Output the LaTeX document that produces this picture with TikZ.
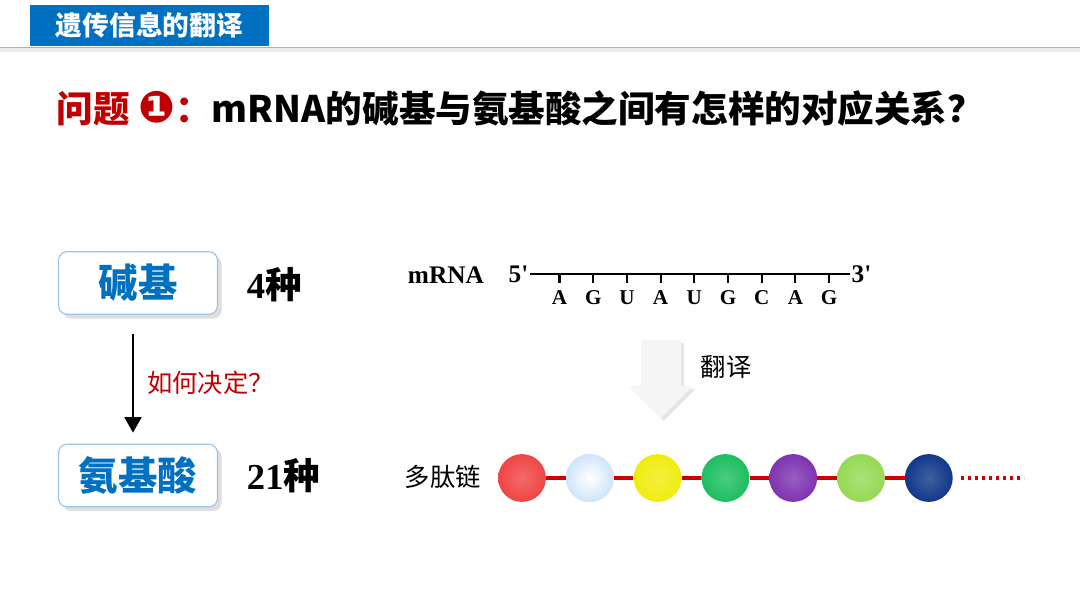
\documentclass[tikz,border=0pt]{standalone}
\usepackage{fontspec}
\setmainfont{Liberation Serif}
\newfontfamily\cjk{Noto Sans CJK SC}
\newfontfamily\dejavu{DejaVu Sans}
\usetikzlibrary{arrows.meta,shadows,positioning}
\definecolor{hdblue}{HTML}{0070C0}
\definecolor{qred}{HTML}{C00000}
\definecolor{boxline}{HTML}{9DC3E6}
\definecolor{pepred}{HTML}{D00000}
\definecolor{aa1}{HTML}{F04545}
\definecolor{aa2}{HTML}{CFE4FA}
\definecolor{aa3}{HTML}{F0EC10}
\definecolor{aa4}{HTML}{1DBE60}
\definecolor{aa5}{HTML}{7E34B2}
\definecolor{aa6}{HTML}{95D955}
\definecolor{aa7}{HTML}{11388A}

\begin{document}
\begin{tikzpicture}[x=0.025cm, y=-0.025cm,
	termbox/.style={draw=boxline, line width=0.8pt, fill=white, rounded corners=6pt,
		minimum width=113pt, minimum height=44.5pt, text=hdblue,
		font=\cjk\bfseries\fontsize{28}{32}\selectfont,
		drop shadow={shadow xshift=3pt, shadow yshift=-3pt, opacity=0.25}},
	count/.style={anchor=west, font=\bfseries\fontsize{26}{30}\selectfont},
	note/.style={anchor=west, font=\cjk\fontsize{18}{22}\selectfont},
	base/.style={font=\bfseries\fontsize{15}{18}\selectfont, inner sep=0pt},
	bead/.style={circle, minimum size=34pt, inner sep=0pt, inner color=#1!80!white, outer color=#1},
	peptide/.style={pepred, line width=2.2pt}]
	\useasboundingbox (0,0) rectangle (1080,608);
	\fill[white] (0,0) rectangle (1080,608);

	% header
	\node[fill=hdblue, minimum width=169.5pt, minimum height=29pt, text=white,
		font=\cjk\bfseries\fontsize{19}{22}\selectfont] (header) at (149.5,25.5) {遗传信息的翻译};
	\draw[gray!15, line width=2.5pt] (0,50) -- (1080,50);
	\draw[gray!60, line width=1.4pt] (0,47.5) -- (1080,47.5);

	\node[anchor=west, font=\cjk\bfseries\fontsize{26}{30}\selectfont] (question) at (52,108)
		{\textcolor{qred}{问题 {\dejavu\bfseries\fontsize{31}{30}\selectfont ❶}：}mRNA的碱基与氨基酸之间有怎样的对应关系？};

	% left side
	\node[termbox] (jianji) at (138,283) {碱基};
	\node[termbox] (anjisuan) at (138,475.5) {氨基酸};
	\node[count] (n4) at (242,285) {4{\cjk 种}};
	\node[count] (n21) at (242,476) {21{\cjk 种}};

	\draw[line width=1.6pt, -{Triangle[width=12pt, length=11pt]}]
		([shift={(-5,19)}]jianji.south) -- ([shift={(-5,-11)}]anjisuan.north)
		node[midway, note, text=qred, xshift=6pt] (howq) {如何决定？};

	% mRNA
	\node[anchor=west, font=\bfseries\fontsize{18}{22}\selectfont] (mrna) at (403,275) {mRNA};
	\node[anchor=east, inner sep=1pt, font=\bfseries\fontsize{18}{22}\selectfont] (five) at (530,274) {5\textquotesingle};
	\node[anchor=west, inner sep=1pt, font=\bfseries\fontsize{18}{22}\selectfont] (three) at (850,274) {3\textquotesingle};
	\draw[line width=1.5pt] (five.east) -- (three.west);
	\foreach \b [count=\i] in {A,G,U,A,U,G,C,A,G}{
		\draw[line width=1.5pt] ({559.5+33.7*(\i-1)},274) -- ++(0,9);
		\node[base] (l\i) at ({559.5+33.7*(\i-1)},298) {\b};
	}

	% translation arrow
	\fill[gray!8, drop shadow={shadow xshift=2pt, shadow yshift=-2pt, opacity=0.2}]
		(641,340) -- (681,340) -- (681,386) -- (693,386) -- (661,418) -- (629,386) -- (641,386) -- cycle;
	\node[note] (fanyi) at (696,367) {翻译};

	% polypeptide
	\node[note] (peptide) at (400,477) {多肽链};
	\foreach \c [count=\i] in {aa1,aa2,aa3,aa4,aa5,aa6,aa7}
		\node[bead=\c] (b\i) at ({522+67.8*(\i-1)},478) {};
	\shade[inner color=white, outer color=aa2] (b2) circle (17pt);
	\foreach \i/\j in {1/2,2/3,3/4,4/5,5/6,6/7}
		\draw[peptide] (b\i) -- (b\j);
	\coordinate (tail) at (1024,478);
	\draw[peptide, line width=2.4pt, dash pattern=on 2.2pt off 2.8pt, shorten <=5.5pt] (b7) -- (tail);

\end{tikzpicture}
\end{document}
